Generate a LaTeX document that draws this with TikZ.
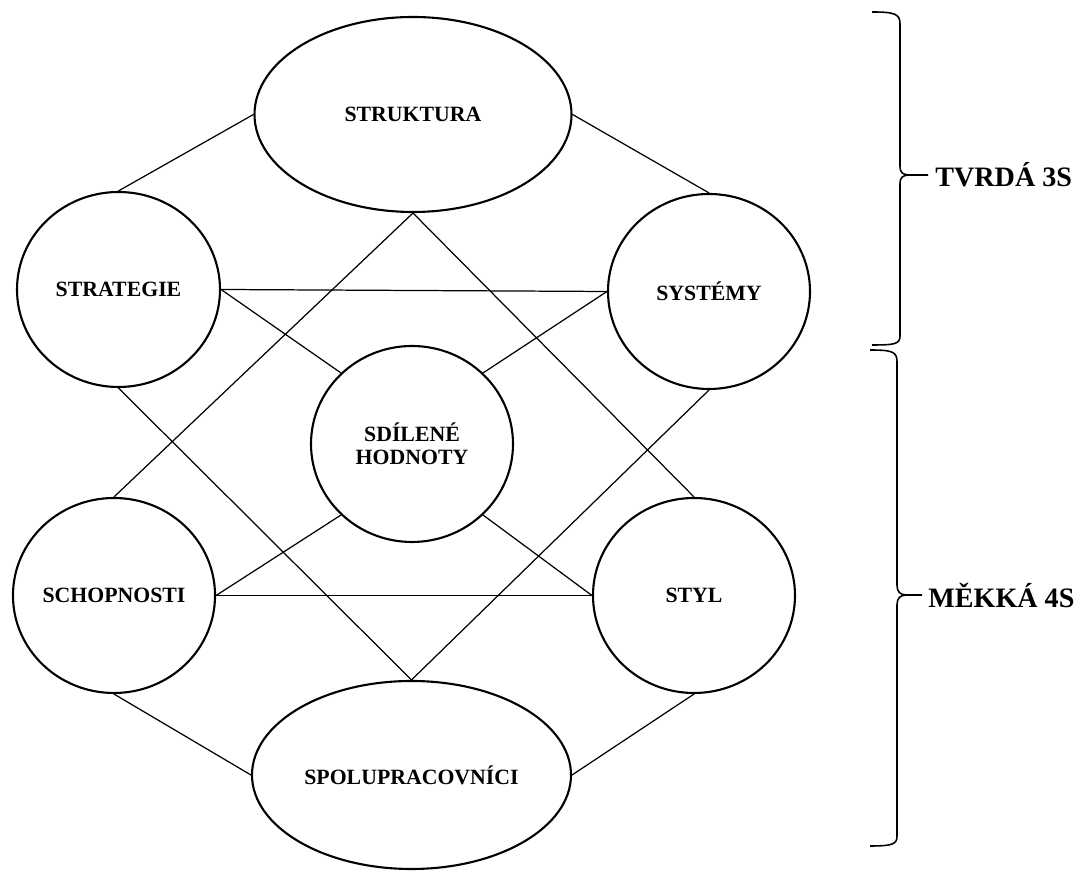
\documentclass[tikz,border=0pt]{standalone}
\usepackage{fontspec}
\setmainfont{Liberation Serif}
\usepackage{tikz}
\usetikzlibrary{shapes.geometric,positioning}

\tikzset{
    element/.style={ellipse, draw, line width=1.2pt, inner sep=0pt, align=center,
        font=\bfseries\fontsize{12.4}{13.2}\selectfont},
    linkline/.style={line width=0.7pt},
    braceline/.style={line width=0.9pt},
    grouplabel/.style={inner sep=0pt, font=\bfseries\fontsize{16}{18}\selectfont}
}

\begin{document}
\begin{tikzpicture}
    \useasboundingbox (0,0) rectangle (21.84,17.44);

    % The seven S ovals
    \node[element, minimum width=6.34cm, minimum height=3.9cm] (strukt) at (8.26,15.15) {STRUKTURA};
    \node[element, minimum width=4.06cm, minimum height=3.9cm] (strat) at (2.37,11.65) {STRATEGIE};
    \node[element, minimum width=4.04cm, minimum height=3.9cm] (syst) at (14.18,11.61) {SYSTÉMY};
    \node[element, minimum width=4.04cm, minimum height=3.92cm] (sdil) at (8.24,8.56) {SDÍLENÉ\\HODNOTY};
    \node[element, minimum width=4.04cm, minimum height=3.9cm] (schop) at (2.28,5.53) {SCHOPNOSTI};
    \node[element, minimum width=4.04cm, minimum height=3.9cm] (styl) at (13.88,5.53) {STYL};
    \node[element, minimum width=6.38cm, minimum height=3.76cm] (spolu) at (8.23,1.94) {SPOLUPRACOVNÍCI};

    % Outer ring
    \draw[linkline] (strukt.west) -- (strat.north);
    \draw[linkline] (strukt.east) -- (syst.north);
    \draw[linkline] (schop.south) -- (spolu.west);
    \draw[linkline] (styl.south) -- (spolu.east);

    % Horizontal links
    \draw[linkline] (strat.east) -- (syst.west);
    \draw[linkline] (schop.east) -- (styl.west);

    % Long diagonals
    \draw[linkline] (strukt.south) -- (schop.north);
    \draw[linkline] (strukt.south) -- (styl.north);
    \draw[linkline] (strat.south) -- (spolu.north);
    \draw[linkline] (syst.south) -- (spolu.north);

    % Links to shared values
    \draw[linkline] (strat.east) -- (sdil.135);
    \draw[linkline] (syst.west) -- (sdil.45);
    \draw[linkline] (schop.east) -- (sdil.225);
    \draw[linkline] (styl.west) -- (sdil.-45);

    % Brace for the hard S
    \coordinate (hardtip) at (18.56,13.94);
    \draw[braceline] (17.44,17.2) .. controls (17.9,17.2) and (18.0,17.16) .. (18.0,16.96)
        -- (18.0,14.12) .. controls (18.0,13.98) and (18.06,13.94) .. (18.2,13.94) -- (hardtip)
        (18.2,13.94) .. controls (18.06,13.94) and (18.0,13.9) .. (18.0,13.76)
        -- (18.0,10.72) .. controls (18.0,10.56) and (17.9,10.54) .. (17.44,10.54);
    \node[grouplabel, right=0.14cm of hardtip] (hard) {TVRDÁ 3S};

    % Brace for the soft S
    \coordinate (softtip) at (18.44,5.54);
    \draw[braceline] (17.4,10.44) .. controls (17.86,10.44) and (17.94,10.4) .. (17.94,10.2)
        -- (17.94,5.74) .. controls (17.94,5.6) and (18.0,5.54) .. (18.14,5.54) -- (softtip)
        (18.14,5.54) .. controls (18.0,5.54) and (17.94,5.48) .. (17.94,5.34)
        -- (17.94,0.72) .. controls (17.94,0.56) and (17.86,0.52) .. (17.4,0.52);
    \node[grouplabel, right=0.12cm of softtip] (soft) {MĚKKÁ 4S};
\end{tikzpicture}
\end{document}
